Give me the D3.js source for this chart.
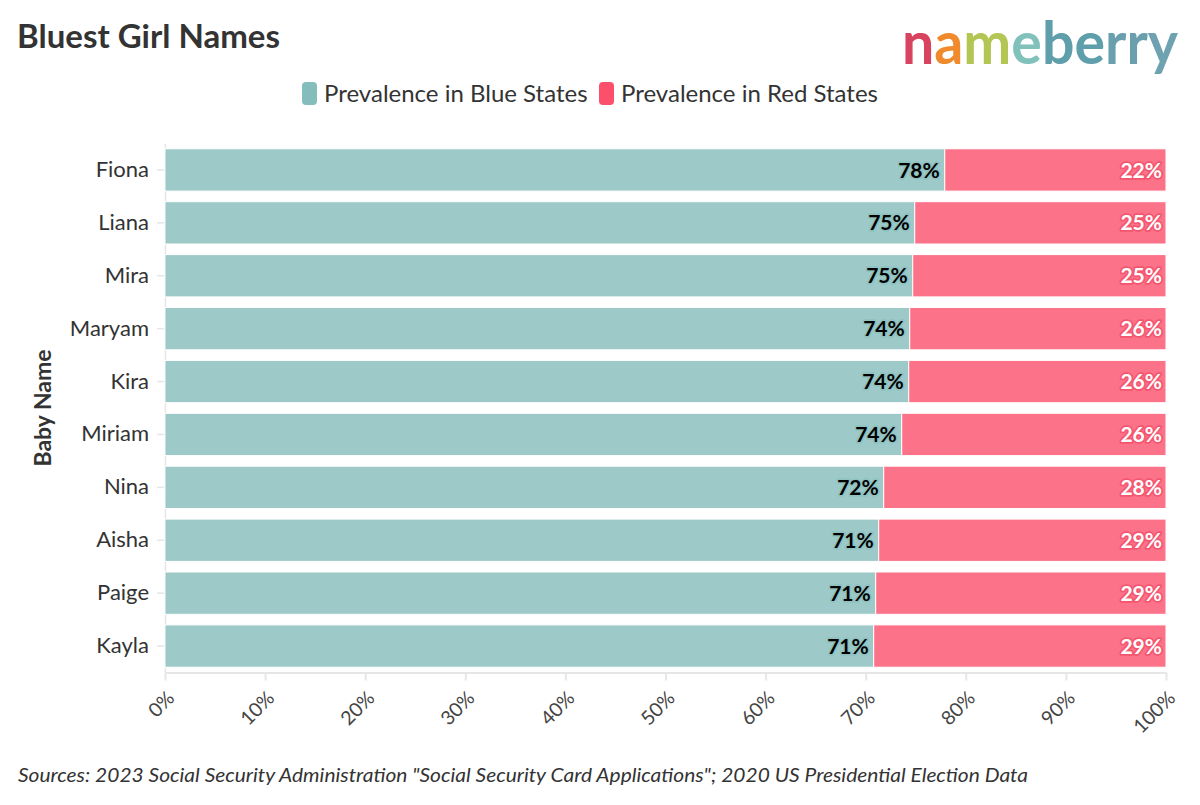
<!doctype html>
<html>
<head>
<meta charset="utf-8">
<script src="https://d3js.org/d3.v7.min.js"></script>
<style>
  body { margin: 0; background: #fff; }
  svg { display: block; font-family: Lato, "Noto Sans", sans-serif; }
</style>
</head>
<body>
<svg id="chart" width="1200" height="805"></svg>
<script>
// values
const names = ["Fiona", "Liana", "Mira", "Maryam", "Kira", "Miriam", "Nina", "Aisha", "Paige", "Kayla"];
const blueShare = [77.9, 74.9, 74.7, 74.4, 74.3, 73.6, 71.8, 71.3, 71.0, 70.8];
const redShare = [22.1, 25.1, 25.3, 25.6, 25.7, 26.4, 28.2, 28.7, 29.0, 29.2];
const xTicks = [0, 10, 20, 30, 40, 50, 60, 70, 80, 90, 100];
const seriesNames = ["Prevalence in Blue States", "Prevalence in Red States"];
const logoLetters = ["n", "a", "m", "e", "b", "e", "r", "r", "y"];
const logoColors = ["#d8435f", "#f08a2c", "#b3c653", "#80c2bb", "#5f9eab", "#5f9eab", "#6a9fad", "#6a9fad", "#6fa2b0"];

const blueFill = "#84bdbc", redFill = "#fb4f6c";
const svg = d3.select("#chart");

const x = d3.scaleLinear().domain([0, 100]).range([165, 1166]);
const y = d3.scaleBand().domain(names).range([143.5, 672.5]).paddingInner(0.2).paddingOuter(0.1);

const rows = names.map((n, i) => ({ name: n, blue: blueShare[i], red: redShare[i] }));

// title
svg.append("text").attr("x", 17).attr("y", 48)
  .attr("font-size", 33).attr("font-weight", 700).attr("fill", "#333")
  .text("Bluest Girl Names");

// logo
const logo = svg.append("text").attr("x", 902).attr("y", 64)
  .attr("font-size", 60).attr("font-weight", 700)
  .attr("textLength", 276).attr("lengthAdjust", "spacingAndGlyphs");
logo.selectAll("tspan").data(logoLetters).join("tspan")
  .attr("fill", (d, i) => logoColors[i]).text(d => d);

// legend
const legend = svg.append("g").attr("transform", "translate(302,82)");
const legX = [0, 297];
seriesNames.forEach((s, i) => {
  const g = legend.append("g").attr("transform", `translate(${legX[i]},0)`);
  g.append("rect").attr("width", 15).attr("height", 23).attr("rx", 4)
    .attr("fill", i === 0 ? blueFill : redFill);
  g.append("text").attr("x", 22).attr("y", 20).attr("font-size", 24).attr("fill", "#333").text(s);
});

// axes
const xAxis = svg.append("g").attr("transform", "translate(0,672.5)")
  .call(d3.axisBottom(x).tickValues(xTicks).tickFormat(d => d + "%").tickSize(8).tickSizeOuter(0));
xAxis.select(".domain").attr("stroke", "#e6e6e6").attr("stroke-width", 2);
xAxis.selectAll(".tick line").attr("stroke", "#e6e6e6").attr("stroke-width", 2);
xAxis.selectAll(".tick text")
  .attr("font-size", 19.5).attr("fill", "#444").attr("font-family", "Lato, sans-serif")
  .attr("text-anchor", "end")
  .attr("y", 0).attr("dy", 0)
  .attr("transform", "translate(10,27) rotate(-45)");

const yAxis = svg.append("g").attr("transform", "translate(165,0)")
  .call(d3.axisLeft(y).tickSize(8).tickPadding(8).tickSizeOuter(0));
yAxis.select(".domain").attr("stroke", "#e6e6e6").attr("stroke-width", 1.5);
yAxis.selectAll(".tick line").attr("stroke", "#e6e6e6").attr("stroke-width", 1.5);
yAxis.selectAll(".tick text").attr("font-size", 22).attr("fill", "#333").attr("font-family", "Lato, sans-serif");

svg.append("text").attr("transform", `translate(51,${(143.5 + 672.5) / 2}) rotate(-90)`)
  .attr("text-anchor", "middle").attr("font-size", 23).attr("font-weight", 700).attr("fill", "#333")
  .text("Baby Name");

// bars
const bars = svg.append("g");
bars.selectAll(".blue").data(rows).join("rect").attr("class", "blue")
  .attr("x", x(0)).attr("y", d => y(d.name))
  .attr("width", d => x(d.blue) - x(0)).attr("height", y.bandwidth())
  .attr("fill", blueFill).attr("fill-opacity", 0.8).attr("stroke", "#fff").attr("stroke-width", 1);
bars.selectAll(".red").data(rows).join("rect").attr("class", "red")
  .attr("x", d => x(d.blue)).attr("y", d => y(d.name))
  .attr("width", d => x(d.blue + d.red) - x(d.blue)).attr("height", y.bandwidth())
  .attr("fill", redFill).attr("fill-opacity", 0.8).attr("stroke", "#fff").attr("stroke-width", 1);

// value labels
const fmt = v => Math.round(v) + "%";
const labels = svg.append("g").attr("font-size", 21).attr("font-weight", 700).attr("text-anchor", "end");
labels.selectAll(".bl").data(rows).join("text").attr("class", "bl")
  .attr("x", d => x(d.blue) - 5).attr("y", d => y(d.name) + y.bandwidth() / 2).attr("dy", "0.36em")
  .attr("fill", "#000").attr("stroke", "#8fc2c1").attr("stroke-width", 3.5).attr("paint-order", "stroke")
  .attr("stroke-linejoin", "round").text(d => fmt(d.blue));
labels.selectAll(".rl").data(rows).join("text").attr("class", "rl")
  .attr("x", d => x(d.blue + d.red) - 4).attr("y", d => y(d.name) + y.bandwidth() / 2).attr("dy", "0.36em")
  .attr("fill", "#fff").attr("stroke", "#f5566f").attr("stroke-width", 3.5).attr("paint-order", "stroke")
  .attr("stroke-linejoin", "round").text(d => fmt(d.red));

// sources
svg.append("text").attr("x", 18).attr("y", 782)
  .attr("font-size", 20).attr("font-style", "italic").attr("fill", "#333")
  .attr("textLength", 1010).attr("lengthAdjust", "spacingAndGlyphs")
  .text('Sources: 2023 Social Security Administration "Social Security Card Applications"; 2020 US Presidential Election Data');
</script>
</body>
</html>
